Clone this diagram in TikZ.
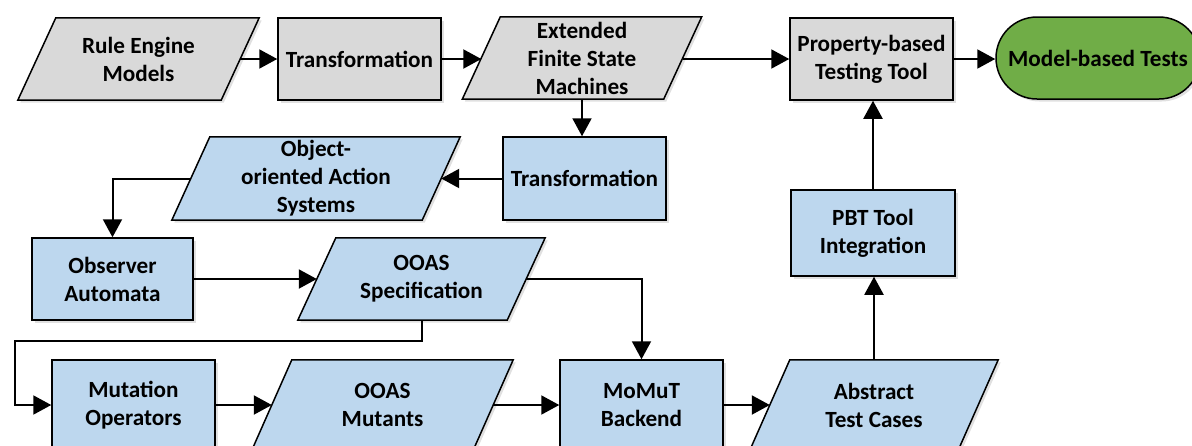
\documentclass[tikz,border=0pt]{standalone}
\usepackage{fontspec}
\setmainfont{Carlito}
\usetikzlibrary{arrows.meta,backgrounds,shadows}
\definecolor{boxgray}{HTML}{D9D9D9}
\definecolor{boxblue}{HTML}{BDD7EE}
\definecolor{boxgreen}{HTML}{70AD47}
\begin{document}
\begin{tikzpicture}[x=1pt,y=-1pt,
  lbl/.style={font=\fontsize{23.2}{28}\selectfont\bfseries, align=center, inner sep=0pt},
  faint/.style={drop shadow={shadow xshift=2.5pt, shadow yshift=-2.5pt, opacity=0.12, fill=black}},
  rectbox/.style={lbl, draw=black, line width=1.5pt, minimum width=163pt, minimum height=82pt, faint},
  parabox/.style={lbl, minimum height=82pt},
  parashape/.style={draw=black, line width=1.5pt, line join=miter, faint},
  conn/.style={line width=2pt, -{Triangle[length=18pt,width=19pt]}}
]
\useasboundingbox (0,0) rectangle (1192,445);

% row 1
\node[parabox, minimum width=203pt] (rem) at (138.5,59) {Rule Engine\\Models};
\node[rectbox, fill=boxgray] (tr1) at (359.5,59) {Transformation};
\node[parabox, minimum width=201pt] (efsm) at (582,58) {Extended\\Finite State\\Machines};
\node[rectbox, fill=boxgray] (pbt) at (871.5,59) {Property-based\\Testing Tool};
\node[lbl, draw=black, line width=1.5pt, fill=boxgreen, minimum width=204pt, minimum height=82pt, rounded corners=41pt, faint] (mbt) at (1098,58) {Model-based Tests};

% row 2
\node[rectbox, fill=boxblue, minimum height=83pt] (tr2) at (584.5,178.5) {Transformation};
\node[parabox, minimum width=250pt, minimum height=83pt] (ooas) at (316,178.5) {Object-\\oriented Action\\Systems};
\node[rectbox, fill=boxblue, minimum width=164pt, minimum height=86pt] (pti) at (873,233) {PBT Tool\\Integration};

% row 3
\node[rectbox, fill=boxblue, minimum width=161pt] (obs) at (112.5,279) {Observer\\Automata};
\node[parabox, minimum width=209pt] (spec) at (421.5,279) {OOAS\\Specification};

% row 4
\node[rectbox, fill=boxblue, minimum height=90pt] (mut) at (133.5,405) {Mutation\\Operators};
\node[parabox, minimum width=221pt, minimum height=90pt] (mnt) at (382.5,405) {OOAS\\Mutants};
\node[rectbox, fill=boxblue, minimum height=90pt] (mom) at (641.5,405) {MoMuT\\Backend};
\node[parabox, minimum width=208pt, minimum height=90pt] (atc) at (874,405) {Abstract\\Test Cases};

% parallelogram outlines
\begin{scope}[on background layer]
\foreach \n/\c/\s in {rem/boxgray/19, efsm/boxgray/19, ooas/boxblue/19, spec/boxblue/19, mnt/boxblue/20, atc/boxblue/20}{
  \draw[parashape, fill=\c] ([xshift=\s pt]\n.north west) -- ([xshift=\s pt]\n.north east)
    -- ([xshift=-\s pt]\n.south east) -- ([xshift=-\s pt]\n.south west) -- cycle;
}
\end{scope}

% connectors
\coordinate (c1) at (15,341);
\draw[conn] (rem.east) -- (tr1.west);
\draw[conn] (tr1.east) -- (efsm.west |- tr1.east);
\draw[conn] (efsm.east |- pbt.west) -- (pbt.west);
\draw[conn] (pbt.east) -- (mbt.west |- pbt.east);
\draw[conn] (efsm.south) -- (efsm.south |- tr2.north);
\draw[conn] (tr2.west) -- (ooas.east);
\draw[conn] (ooas.west) -| (obs.north);
\draw[conn] (obs.east) -- (spec.west);
\draw[conn] (spec.east) -| (mom.north);
\draw[conn] (spec.south) |- (c1) |- (mut.west);
\draw[conn] (mut.east) -- (mnt.west);
\draw[conn] (mnt.east) -- (mom.west);
\draw[conn] (mom.east) -- (atc.west);
\draw[conn] (atc.north) -- (atc.north |- pti.south);
\draw[conn] (pti.north) -- (pti.north |- pbt.south);
\end{tikzpicture}
\end{document}
